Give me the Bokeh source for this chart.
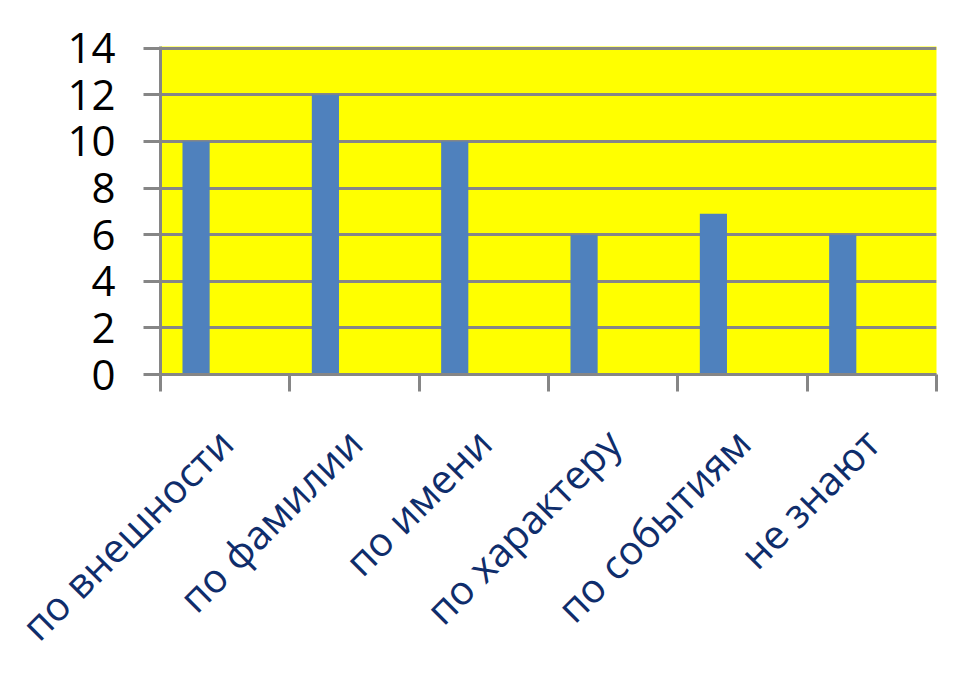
from bokeh.plotting import figure
from bokeh.models import Range1d, FixedTicker, BoxAnnotation
from bokeh.embed import file_html
from bokeh.resources import INLINE
import math

categories = ["по внешности", "по фамилии", "по имени", "по характеру", "по событиям", "не знают"]
values = [10, 12, 10, 6, 6.9, 6]
y_ticks = [0, 2, 4, 6, 8, 10, 12, 14]

GRAY = "#868686"
W, H = 941, 675

p = figure(width=W, height=H, output_backend="svg", toolbar_location=None,
           x_range=Range1d(0, len(categories)), y_range=Range1d(0, 14.07),
           min_border_left=160, min_border_right=5, min_border_top=46, min_border_bottom=301)
p.background_fill_color = "#FFFF00"
p.border_fill_color = "white"
p.outline_line_color = None

# page frame decoration (blue edge and red rule) in canvas units
frame_boxes = [
    (0, 6, 0, H, "#55bdef"),
    (0, 320, 0, 6, "#62c5f2"),
    (320, 620, 0, 6, "#8fd3f6"),
    (620, 800, 0, 6, "#cfe6f9"),
    (800, W, 0, 6, "#9fd6f4"),
    (6, 8, 6, H, "#d01c1c"),
    (6, W, 6, 8, "#d01c1c"),
]
for l, r, t, b, c in frame_boxes:
    p.add_layout(BoxAnnotation(left=l, right=r, top=t, bottom=b,
                               left_units="canvas", right_units="canvas",
                               top_units="canvas", bottom_units="canvas",
                               fill_color=c, fill_alpha=1.0, line_color=None, level="overlay"))

xs = [i + 0.5 - 0.225 for i in range(len(categories))]
p.vbar(x=xs, top=values, width=0.21, bottom=0, fill_color="#4F81BD", line_color=None)

# y axis
p.yaxis.ticker = FixedTicker(ticks=y_ticks)
p.yaxis.axis_line_color = GRAY
p.yaxis.axis_line_width = 3
p.yaxis.major_tick_line_color = GRAY
p.yaxis.major_tick_line_width = 3
p.yaxis.major_tick_out = 17
p.yaxis.major_tick_in = 0
p.yaxis.minor_tick_line_color = None
p.yaxis.major_label_standoff = 28
p.yaxis.major_label_text_font = "Open Sans"
p.yaxis.major_label_text_font_size = "42px"
p.yaxis.major_label_text_color = "black"

# x axis
centers = [i + 0.5 for i in range(len(categories))]
p.xaxis.ticker = FixedTicker(ticks=centers, minor_ticks=list(range(len(categories) + 1)))
p.xaxis.major_label_overrides = {c: lab for c, lab in zip(centers, categories)}
p.xaxis.axis_line_color = GRAY
p.xaxis.axis_line_width = 3
p.xaxis.major_tick_line_color = None
p.xaxis.major_tick_out = 0
p.xaxis.major_tick_in = 0
p.xaxis.minor_tick_line_color = GRAY
p.xaxis.minor_tick_line_width = 3
p.xaxis.minor_tick_out = 17
p.xaxis.minor_tick_in = 0
p.xaxis.major_label_orientation = math.pi / 4
p.xaxis.major_label_standoff = 44
p.xaxis.major_label_text_font = "Open Sans"
p.xaxis.major_label_text_font_size = "40px"
p.xaxis.major_label_text_color = "#0f2d6b"

p.xgrid.grid_line_color = None
p.ygrid.ticker = FixedTicker(ticks=y_ticks)
p.ygrid.grid_line_color = GRAY
p.ygrid.grid_line_width = 3

open("out.html", "w").write(file_html(p, INLINE))
